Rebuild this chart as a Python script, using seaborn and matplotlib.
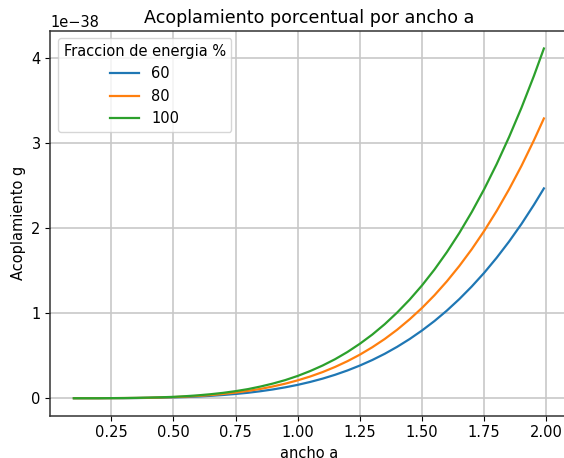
import numpy as np
import pandas as pd
import matplotlib
matplotlib.use("Agg")
import matplotlib.pyplot as plt
import seaborn as sns

# ancho a
ancho = [0.10, 0.15, 0.20, 0.25, 0.30, 0.35, 0.40, 0.45, 0.50, 0.55,
         0.60, 0.65, 0.70, 0.75, 0.80, 0.85, 0.90, 0.95, 1.00, 1.05,
         1.10, 1.15, 1.20, 1.25, 1.30, 1.35, 1.40, 1.45, 1.50, 1.55,
         1.60, 1.65, 1.70, 1.75, 1.80, 1.85, 1.90, 1.95, 1.99]

# acoplamiento g, in units of 1e-38
g_60 = [0.000, 0.000, 0.000, 0.001, 0.001, 0.002, 0.004, 0.006, 0.010, 0.014,
        0.020, 0.028, 0.038, 0.050, 0.064, 0.082, 0.103, 0.128, 0.157, 0.191,
        0.230, 0.275, 0.326, 0.384, 0.449, 0.522, 0.604, 0.695, 0.796, 0.907,
        1.030, 1.165, 1.313, 1.474, 1.650, 1.841, 2.048, 2.273, 2.465]
g_80 = [0.000, 0.000, 0.000, 0.001, 0.002, 0.003, 0.005, 0.009, 0.013, 0.019,
        0.027, 0.037, 0.050, 0.066, 0.086, 0.109, 0.138, 0.171, 0.210, 0.255,
        0.307, 0.367, 0.435, 0.512, 0.599, 0.696, 0.805, 0.927, 1.061, 1.210,
        1.374, 1.554, 1.751, 1.966, 2.200, 2.455, 2.731, 3.031, 3.287]
g_100 = [0.000, 0.000, 0.000, 0.001, 0.002, 0.004, 0.007, 0.011, 0.016, 0.024,
         0.034, 0.047, 0.063, 0.083, 0.107, 0.137, 0.172, 0.213, 0.262, 0.319,
         0.384, 0.458, 0.543, 0.640, 0.748, 0.870, 1.007, 1.158, 1.326, 1.512,
         1.717, 1.942, 2.188, 2.457, 2.750, 3.069, 3.414, 3.788, 4.109]

fracciones = ["60", "80", "100"]
scale = 1e-38

df = pd.concat([
    pd.DataFrame({"ancho a": ancho, "g": np.array(vals) * scale, "Fraccion de energia %": f})
    for f, vals in zip(fracciones, [g_60, g_80, g_100])
])

plt.rcParams["font.family"] = ["DejaVu Sans"]
plt.rcParams["font.size"] = 10.5
fig = plt.figure(figsize=(5.64, 4.58), dpi=100)
ax = fig.add_axes([50.4 / 564, 42.3 / 458, 517 / 564, 384.7 / 458])

sns.lineplot(data=df, x="ancho a", y="g", hue="Fraccion de energia %",
             palette=["#1f77b4", "#ff7f0e", "#2ca02c"], ax=ax, linewidth=1.6)

ax.grid(True, which="major", color="#c8c8c8", linewidth=1.2)
ax.set_axisbelow(True)
for side in ["top", "right", "left", "bottom"]:
    ax.spines[side].set_visible(True)
    ax.spines[side].set_color("#333333")
    ax.spines[side].set_linewidth(1.1)

ax.set_xticks([0.25, 0.5, 0.75, 1.0, 1.25, 1.5, 1.75, 2.0])
ax.set_xlabel("ancho a")
ax.set_ylabel("Acoplamiento g")
ax.set_title("Acoplamiento porcentual por ancho a", fontsize=12.6)
ax.legend(title="Fraccion de energia %", loc="upper left", title_fontsize=10.5)

fig.savefig("out.png", dpi=100)
